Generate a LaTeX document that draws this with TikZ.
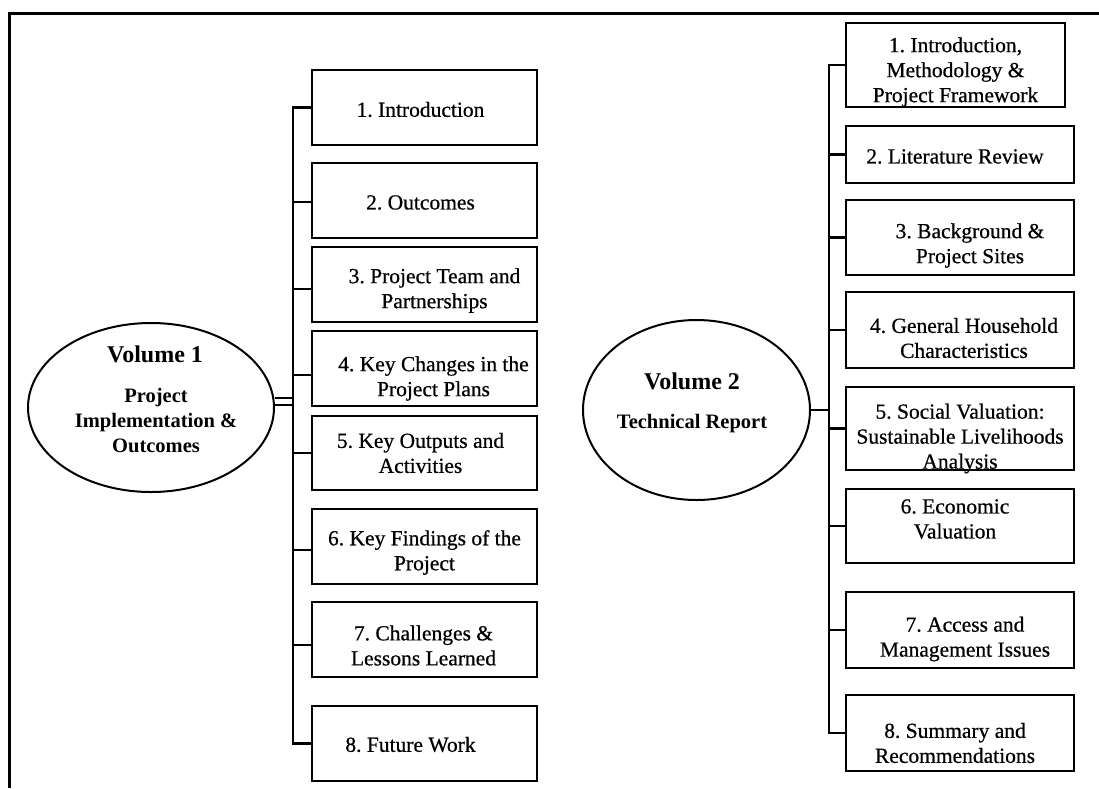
\documentclass[tikz,border=0pt]{standalone}
\usepackage{fontspec}
\setmainfont{Liberation Serif}
\newfontfamily\boxfont{Liberation Serif}[FakeBold=0.6]
\usetikzlibrary{shapes.geometric,calc}
\frenchspacing
\begin{document}
\begin{tikzpicture}[x=1pt,y=-1pt,
  box/.style={draw, line width=2pt, rectangle, inner sep=0pt},
  lbl/.style={align=center, font=\boxfont\fontsize{21.5}{25}\selectfont, inner sep=0pt},
  link/.style={line width=2.2pt},
  oval/.style={draw, ellipse, line width=2pt, inner sep=0pt},
  ttl/.style={font=\fontsize{24}{28}\selectfont\bfseries, inner sep=0pt, anchor=base},
  sub/.style={font=\fontsize{20.5}{25}\selectfont\bfseries, align=center, inner sep=0pt},
  frame/.style={line width=3pt}]
\useasboundingbox (0,0) rectangle (1099,788);

% outer frame (top and left rules)
\coordinate (FB) at (9,788);
\coordinate (FC) at (9,13);
\coordinate (FR) at (1099,13);
\draw[frame] (FB) -- (FC) -- (FR);

% ---------------- Volume 1 ----------------
\node[oval, minimum width=246pt, minimum height=169pt] (V1) at (151,407.5) {};
\node[ttl] (V1t) at (155,362) {Volume 1};
\node[sub] (V1s) at (156,421) {Project\\Implementation \&\\Outcomes};

\begin{scope}[every node/.style={box, minimum width=225pt}]
  \node[minimum height=75pt] (L1) at (424.5,107.5) {};
  \node[minimum height=75pt] (L2) at (424.5,200.5) {};
  \node[minimum height=75pt] (L3) at (424.5,284.5) {};
  \node[minimum height=75pt] (L4) at (424.5,368.5) {};
  \node[minimum height=74pt] (L5) at (424.5,453) {};
  \node[minimum height=75pt] (L6) at (424.5,546.5) {};
  \node[minimum height=75pt] (L7) at (424.5,639.5) {};
  \node[minimum height=75pt] (L8) at (424.5,743.5) {};
\end{scope}

\node[lbl] (L1t) at ($(L1)+(-4,2)$) {1. Introduction};
\node[lbl] (L2t) at ($(L2)+(-4,2)$) {2. Outcomes};
\node[lbl] (L3t) at ($(L3)+(10,6)$) {3. Project Team and\\Partnerships};
\node[lbl] (L4t) at ($(L4)+(9,10)$) {4. Key Changes in the\\Project Plans};
\node[lbl] (L5t) at ($(L5)+(-4,0)$) {5. Key Outputs and\\Activities};
\node[lbl] (L6t) at ($(L6)+(0,6)$) {6. Key Findings of the\\Project};
\node[lbl] (L7t) at ($(L7)+(-1,6)$) {7. Challenges \&\\Lessons Learned};
\node[lbl] (L8t) at ($(L8)+(-14,1)$) {8. Future Work};

% left trunk and branches
\coordinate (LT) at (293,0);
\draw[link] (L1.west) -- (L1.west -| LT) -- (L8.west -| LT) -- (L8.west);
\foreach \b/\d in {L2/-1.5, L3/-4.5, L4/-6.5, L5/0, L6/-3.5, L7/-5.5}
  \draw[link] ([yshift=\d pt]\b.west) -- ([yshift=\d pt]\b.west -| LT);

% double link from the Volume 1 oval
\coordinate (E1a) at ([yshift=9.5pt]V1.east);
\coordinate (E1b) at ([yshift=2.5pt]V1.east);
\draw[line width=2pt] ([xshift=-0.5pt]E1a) -- (E1a -| LT);
\draw[line width=2pt] (E1b) -- (E1b -| LT);

% ---------------- Volume 2 ----------------
\node[oval, minimum width=227pt, minimum height=180pt] (V2) at (696.5,410) {};
\node[ttl] (V2t) at (692,389) {Volume 2};
\node[sub, anchor=base] (V2s) at (692,428) {Technical Report};

\begin{scope}[every node/.style={box, minimum width=228pt}]
  \node[minimum width=219pt, minimum height=84pt] (R1) at (955.5,65) {};
  \node[minimum height=57pt] (R2) at (960,154.5) {};
  \node[minimum height=75pt] (R3) at (960,237.5) {};
  \node[minimum height=76pt] (R4) at (960,330) {};
  \node[minimum height=83pt] (R5) at (960,428.5) {};
  \node[minimum height=74pt] (R6) at (960,526) {};
  \node[minimum height=76pt] (R7) at (960,630) {};
  \node[minimum height=76pt] (R8) at (960,733) {};
\end{scope}

\node[lbl] (R1t) at ($(R1)+(0,7)$) {1. Introduction,\\Methodology \&\\Project Framework};
\node[lbl] (R2t) at ($(R2)+(-5,2)$) {2. Literature Review};
\node[lbl] (R3t) at ($(R3)+(10,8)$) {3. Background \&\\Project Sites};
\node[lbl] (R4t) at ($(R4)+(4,8)$) {4. General Household\\Characteristics};
\node[lbl] (R5t) at ($(R5)+(0,10)$) {5. Social Valuation:\\Sustainable Livelihoods\\Analysis};
\node[lbl] (R6t) at ($(R6)+(-5,-7)$) {6. Economic\\Valuation};
\node[lbl] (R7t) at ($(R7)+(5,9)$) {7. Access and\\Management Issues};
\node[lbl] (R8t) at ($(R8)+(-5,10)$) {8. Summary and\\Recommendations};

% right trunk and branches
\coordinate (RT) at (829,0);
\draw[link] (R1.west) -- (R1.west -| RT) -- (R8.west -| RT) -- (R8.west);
\foreach \b in {R2,R3,R4,R5,R6,R7}
  \draw[link] (\b.west) -- (\b.west -| RT);
\draw[link] (V2.east) -- (V2.east -| RT);
\end{tikzpicture}
\end{document}
